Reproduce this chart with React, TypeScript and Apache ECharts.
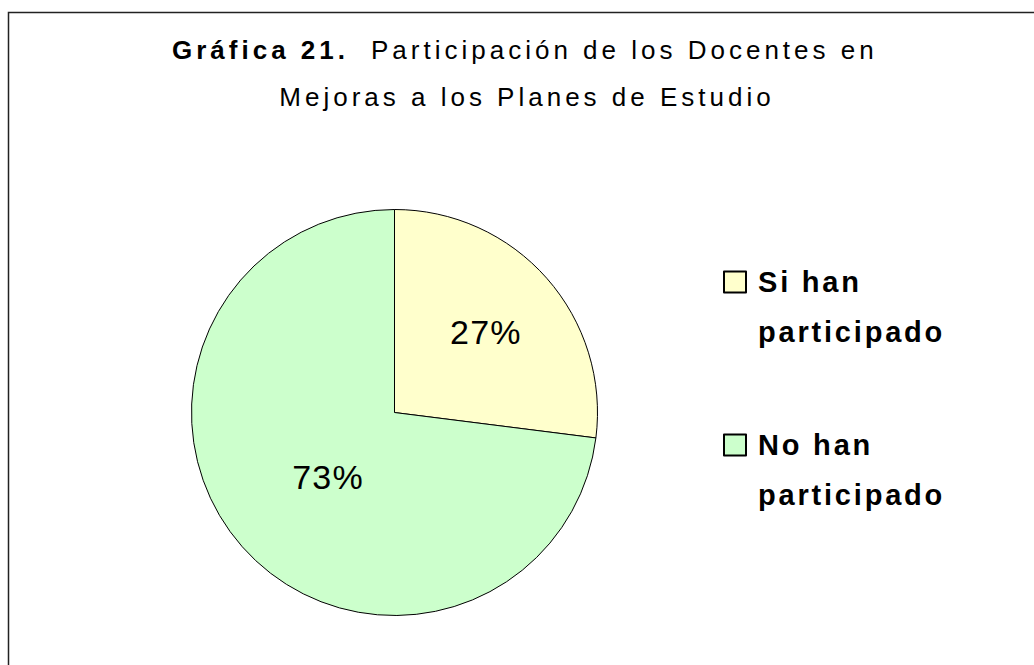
import React, { useEffect, useRef } from "react";
import * as echarts from "echarts";

const categories = ["Si han participado", "No han participado"];
const values = [27, 73];
const colors = ["#FFFFCC", "#CCFFCC"];
const titleBold = "Gráfica 21.";
const titleRest = "Participación de los Docentes en";
const titleLine2 = "Mejoras a los Planes de Estudio";

const FONT = "Liberation Sans, Arial, sans-serif";

const css = `
.chartbox text[style*="26px"] { letter-spacing: 4px; }
.chartbox text[style*="29px"] { letter-spacing: 2.8px; }
.chartbox text[style*="34px"] { letter-spacing: 1.3px; }
`;

export default function App() {
  const ref = useRef<HTMLDivElement>(null);
  useEffect(() => {
    document.body.style.margin = "0";
    const chart = echarts.init(ref.current!, null, { renderer: "svg" });
    const legendText = {
      fontFamily: FONT,
      fontWeight: "bold" as const,
      fontSize: 29,
      color: "#000",
      lineHeight: 50,
      padding: [0, 0, 0, 7],
    };
    const labelPads = [
      [0, 0, 0, 26],
      [0, 0, 0, 24],
    ];
    const labelLineHeights = [22, 10];
    const titleStyle = {
      fontFamily: FONT,
      fontSize: 26,
      color: "#000",
    };
    chart.setOption({
      animation: false,
      backgroundColor: "#fff",
      title: [
        {
          text: titleBold,
          left: 172,
          top: 37,
          padding: 0,
          textStyle: { ...titleStyle, fontWeight: "bold" },
        },
        {
          text: titleRest,
          left: 371,
          top: 37,
          padding: 0,
          textStyle: { ...titleStyle, fontWeight: "normal" },
        },
        {
          text: titleLine2,
          left: 527,
          top: 84,
          padding: 0,
          textAlign: "center",
          textStyle: { ...titleStyle, fontWeight: "normal" },
        },
      ],
      legend: categories.map((c, i) => ({
        data: [c],
        orient: "vertical",
        left: 718,
        top: i === 0 ? 202 : 365,
        icon: "rect",
        itemWidth: 22,
        itemHeight: 21,
        selectedMode: false,
        formatter: (name: string) => "\n" + name.replace(" han ", " han\n"),
        textStyle: legendText,
      })),
      graphic: [
        {
          type: "rect",
          shape: { x: 8.5, y: 12.5, width: 1200, height: 800 },
          style: { fill: "none", stroke: "#222", lineWidth: 1.5 },
          silent: true,
          z: 100,
        },
      ],
      series: [
        {
          type: "pie",
          center: [394.5, 412.5],
          radius: 203,
          startAngle: 90,
          clockwise: true,
          label: {
            position: "inside",
            formatter: "{d}%\n",
            fontFamily: FONT,
            fontSize: 34,
            color: "#000",
          },
          labelLine: { show: false },
          itemStyle: { borderColor: "#000", borderWidth: 1 },
          emphasis: { disabled: true },
          data: categories.map((c, i) => ({
            name: c,
            value: values[i],
            itemStyle: { color: colors[i] },
            label: { padding: labelPads[i], lineHeight: labelLineHeights[i] },
          })),
        },
      ],
    });
    return () => chart.dispose();
  }, []);
  return (
    <>
      <style>{css}</style>
      <div className="chartbox" ref={ref} style={{ width: 1034, height: 665 }} />
    </>
  );
}
